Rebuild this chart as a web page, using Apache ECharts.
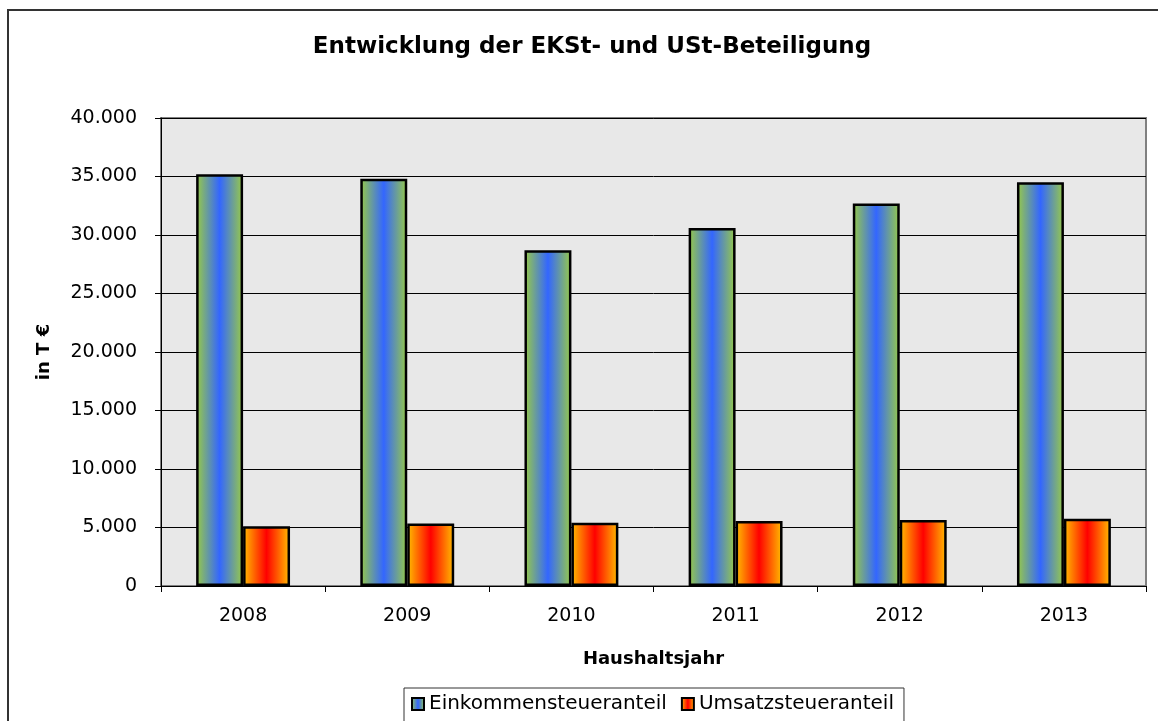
<!DOCTYPE html>
<html>
<head>
<meta charset="utf-8">
<script src="https://cdn.jsdelivr.net/npm/echarts@6/dist/echarts.min.js"></script>
<style>
    html, body { margin: 0; padding: 0; background: #fff; }
    #chart { width: 1158px; height: 721px; }
</style>
</head>
<body>
<div id="chart"></div>
<script>
var jahre = ['2008', '2009', '2010', '2011', '2012', '2013'];
var einkommensteuer = [35200, 34800, 28700, 30600, 32700, 34500];
var umsatzsteuer = [5100, 5350, 5400, 5550, 5650, 5750];
var yTicks = [0, 5000, 10000, 15000, 20000, 25000, 30000, 35000, 40000];

(function () {
    var chart = echarts.init(document.getElementById('chart'));
    var font = 'DejaVu Sans, Verdana, sans-serif';

    // Tausendertrennzeichen mit Punkt
    function fmt(v) {
        return String(v).replace(/\B(?=(\d{3})+(?!\d))/g, '.');
    }

    var blauGruen = new echarts.graphic.LinearGradient(0, 0, 1, 0, [
        { offset: 0, color: '#99CC44' },
        { offset: 0.5, color: '#3366FF' },
        { offset: 1, color: '#99CC44' }
    ]);
    var gelbRot = new echarts.graphic.LinearGradient(0, 0, 1, 0, [
        { offset: 0, color: '#FFC000' },
        { offset: 0.5, color: '#FF0000' },
        { offset: 1, color: '#FFC000' }
    ]);

    var option = {
        animation: false,
        textStyle: { fontFamily: font },
        title: {
            text: 'Entwicklung der EKSt- und USt-Beteiligung',
            left: 587,
            top: 31,
            textAlign: 'center',
            textStyle: { fontSize: 23, fontWeight: 'bold', color: '#000', fontFamily: font }
        },
        graphic: [{
            type: 'rect',
            shape: { x: 8, y: 10, width: 1160, height: 730 },
            style: { fill: 'none', stroke: '#333', lineWidth: 2 },
            silent: true
        }],
        legend: {
            data: ['Einkommensteueranteil', 'Umsatzsteueranteil'],
            icon: 'rect',
            left: 404,
            top: 688,
            padding: [6, 10, 8, 7],
            itemGap: 14,
            itemWidth: 12,
            itemHeight: 12,
            borderColor: '#333',
            borderWidth: 1,
            textStyle: { fontSize: 20, color: '#000', fontFamily: font }
        },
        grid: {
            show: true,
            left: 161,
            right: 12,
            top: 118,
            bottom: 135,
            backgroundColor: '#E8E8E8',
            borderColor: '#808080',
            borderWidth: 2
        },
        xAxis: {
            type: 'category',
            data: jahre,
            name: 'Haushaltsjahr',
            nameLocation: 'middle',
            nameGap: 64,
            nameTextStyle: { fontSize: 18, fontWeight: 'bold', color: '#000' },
            axisLine: { lineStyle: { color: '#000', width: 1 } },
            axisTick: { show: true, length: 6, lineStyle: { color: '#000' } },
            axisLabel: { fontSize: 19, color: '#000', margin: 21 }
        },
        yAxis: {
            type: 'value',
            min: yTicks[0],
            max: yTicks[yTicks.length - 1],
            interval: yTicks[1] - yTicks[0],
            name: 'in T €',
            nameLocation: 'middle',
            nameGap: 108,
            nameRotate: 90,
            nameTextStyle: { fontSize: 18, fontWeight: 'bold', color: '#000' },
            axisLine: { show: true, lineStyle: { color: '#000', width: 1 } },
            axisTick: { show: true, length: 6, lineStyle: { color: '#000' } },
            axisLabel: { fontSize: 19, color: '#000', margin: 24, formatter: fmt },
            splitLine: { lineStyle: { color: '#000', width: 1 } }
        },
        series: [{
                name: 'Einkommensteueranteil',
                type: 'bar',
                barWidth: '28.6%',
                barGap: 0,
                itemStyle: { color: blauGruen, borderColor: '#000', borderWidth: 2.5 },
                data: einkommensteuer
            },
            {
                name: 'Umsatzsteueranteil',
                type: 'bar',
                barWidth: '28.6%',
                barGap: 0,
                itemStyle: { color: gelbRot, borderColor: '#000', borderWidth: 2.5 },
                data: umsatzsteuer
            }
        ]
    };
    chart.setOption(option);
})();
</script>
</body>
</html>
